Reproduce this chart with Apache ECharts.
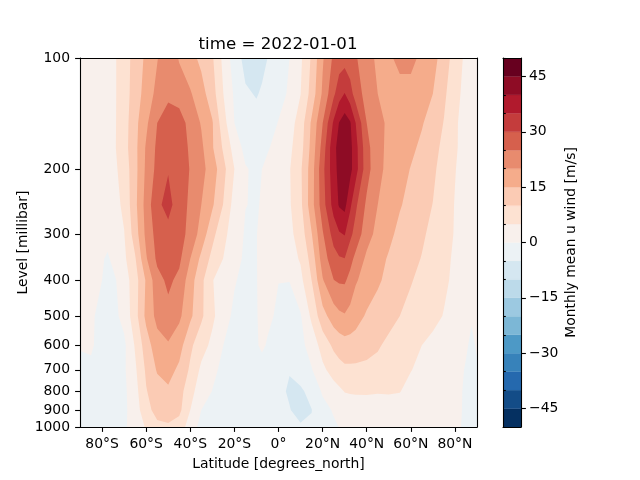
<!DOCTYPE html>
<html><head><meta charset="utf-8">
<style>html,body{margin:0;padding:0;background:#fff}#c{width:640px;height:480px}</style>
<script src="https://cdn.jsdelivr.net/npm/echarts@6/dist/echarts.min.js"></script>
</head><body><div id="c"></div>
<script>
const lats=[-90,-85,-80,-77.5,-75,-70,-65,-60,-55,-50,-45,-40,-35,-30,-25,-20,-15,-10,-7.5,-5,0,5,10,15,20,25,27.5,30,32.5,35,40,45,50,55,60,65,70,75,80,85,87.5,90];
const levels=[100,125,150,175,200,250,300,350,400,500,600,700,800,900,1000];
const u100=[3,3,3,3.5,4,7.5,12,16,19.7,24,19.5,16.7,13.8,10.6,3.7,-2.5,-6.5,-7,-6.2,-5,-2.6,0,4.1,10.7,19.4,26,27.5,28,27,25.5,22,19,19.5,20.8,21.2,19,16.5,13,7.5,4,3.5,3];
const u125=[3,3,3,3.5,4,7.5,12.5,17,21.5,23.5,23,20.5,16.9,12.2,5,-0.7,-4.4,-5.3,-4.5,-3,-1.5,0.6,4.9,11.9,20.8,29,33,35.2,32,27.7,23,20,19.5,19,18.5,17,15,11,6.5,3.5,3.2,3];
const u150=[3,3,3,3.5,4,7.7,13.5,19,25,28.5,27,23.5,19.6,15.4,7,0,-2.5,-3.5,-3,-2,0.2,3,7.2,15.8,24.9,35.8,40.2,42.5,40.5,35,25,21.3,19.2,18,17.5,15.4,12.8,9.8,5.6,3.4,3.1,3];
const u175=[3,3,3.2,3.6,4,8,13.6,20.6,26,29.5,28.5,24,21,15.5,9.3,3,-1.5,-3,-1.8,-0.5,1.9,4,8,16.6,27,38.8,41.5,44,41.5,36.8,26.7,21.3,19,17.5,16,14,11.5,8.9,5.5,3.5,3.2,3];
const u200=[3,3,3.2,3.4,3.7,7,13.4,21,26.5,29.7,28,24.7,21.5,17.7,11.5,5,0.4,-1,0,1.3,3,4.7,9.2,17.6,28.5,38.2,41.5,44,41.5,37,27,21.3,18.7,16.8,14.8,12.8,10.9,8,5.2,3,2.7,2.5];
const u250=[2.5,2.5,2,2.5,3,6,13.7,22,29,31.5,27.6,24,20,15.7,9.8,3,0.1,-0.4,0.4,1.2,3,4.5,8.8,18,27.7,37,40.5,41.5,36,30.9,24,20,17.6,15.4,13.5,11.7,9.9,7.3,4.8,3,2.7,2.5];
const u300=[2.5,2,1.5,1.5,1.5,4.8,12.5,21.3,27,28.5,27,23.4,18,11.5,6.3,2.6,-0.5,-0.1,0.9,1.5,2.6,3.8,7.2,14.7,24.5,32,34.5,35.3,31.2,28.2,22,18.5,16.2,13.7,12.4,10.7,8.8,6.8,4.7,2.5,2.2,2];
const u350=[2,1.5,0.4,-0.6,1,4,9.5,19.5,26,28.5,26,20,13.8,8.5,4.9,1.6,-0.8,-0.1,0.8,1.2,2,3,5.5,11.8,22.5,28,29.5,29.9,26.7,23.6,19,16.7,14.5,12.8,11.3,9.8,8,6.2,4.3,2.5,2.2,2];
const u400=[1.5,1,0,-1.5,-1,2.5,7.8,15.6,23.3,26,23.8,17.2,11.3,5.2,3,0.4,-1.4,-0.1,0.7,1,0.1,0.1,3.7,10,19.6,24.9,25.6,25.7,23.4,20.5,18,15.7,13.7,12,10.3,8.8,7.3,5.8,4.1,2.6,2.1,1.5];
const u500=[1,0.6,-1.2,-2,-1.5,1.5,8,16.3,21.5,23.5,21,16,10.9,6,2,-1,-2,-0.2,0.8,1.2,-1,-1.8,-0.4,6,13.2,17.5,19,19.6,18.4,17,14.4,13,11.5,10,8.7,7.5,6.2,4.8,3,1.5,0.3,1];
const u600=[0.3,0.7,-2,-2.3,-2,-1,5.5,12.6,18,19.5,17,11,7,3.8,0,-1.5,-2,-0.5,0.9,-0.5,-2,-2.5,-1.3,2,7,11,12.2,13,13,12.8,11.8,10.5,9,7.9,6.5,5,3.9,2.8,1.8,0.4,-0.6,0.3];
const u700=[-1,-1,-1.5,-1.7,-1.5,-0.7,4.2,10.8,15.5,16.8,14,9.2,4,1,-1,-2,-3,-2.5,-2,-2.5,-3.2,-4.8,-3.2,-0.3,4,7,8.2,9,9,9,8.8,8.6,8,7,5.2,3.6,2.9,2.2,1.4,-0.3,-0.8,-0.3];
const u800=[-1.5,-1.5,-1.5,-1.5,-1.5,-1,3.2,9.7,12.8,14.2,12,6.7,2.3,-0.1,-1.5,-2,-2.8,-3.2,-3.3,-3.5,-4,-5.5,-5.6,-3.8,0.7,3,4,5.2,5.4,5.5,5.5,5.3,5.4,5.2,3.2,2.5,2,1.5,0.8,-0.4,-1,-0.6];
const u900=[-1.5,-1.5,-1.5,-1.5,-1.5,-1,2.5,8.3,11.8,12.3,11.2,5,0,-1.5,-2,-2,-2.5,-3,-3.2,-3.4,-4,-4.8,-6.5,-5.1,-1.8,0.5,1.5,2.3,2.6,2.8,3,3,3,2.8,2.3,2,1.6,1.2,0.7,-0.4,-1,-0.6];
const u1000=[-1,-1,-1.2,-1.2,-1.2,-0.6,1.8,5.5,8.7,9.3,7.8,2.5,-1.5,-2,-2,-2,-2,-2,-2,-2.5,-2.5,-3,-4.5,-4.5,-2.8,-0.8,0.1,0.8,1.2,1.5,1.5,1.5,1.5,1.5,1.5,1.3,1.2,1,0.5,-0.4,-0.8,-0.5];
const rows=[u100,u125,u150,u175,u200,u250,u300,u350,u400,u500,u600,u700,u800,u900,u1000];
const bandFloors=[-50,-45,-40,-35,-30,-25,-20,-15,-10,-5,0,5,10,15,20,25,30,35,40,45];
const bandColors=['#053061','#134c87','#2569ae','#3782ba','#4d99c6','#7cb7d6','#9cc9e1','#bcdaea','#d5e7f1','#ecf2f5','#f8f0ec','#fde2d2','#fbcbb4','#f5ac8b','#e88b6e','#d6604d','#c43c3c','#b11a2d','#8e0c25','#67001f'];
const latTicks=[-80,-60,-40,-20,0,20,40,60,80];
const levelTicks=[100,200,300,400,500,600,700,800,900,1000];
const cbMajor=[-45,-30,-15,0,15,30,45];
const cbMinor=[-40,-35,-25,-20,-10,-5,5,10,20,25,35,40,50];

const minU=Math.min(...rows.map(r=>Math.min(...r)));
function clipCell(poly,t){
  const out=[];
  for(let i=0;i<poly.length;i++){
    const a=poly[i],b=poly[(i+1)%poly.length];
    const ia=a[2]>=t,ib=b[2]>=t;
    if(ia)out.push(a);
    if(ia!==ib){
      const f=(t-a[2])/(b[2]-a[2]);
      out.push([a[0]+f*(b[0]-a[0]),a[1]+f*(b[1]-a[1]),t]);
    }
  }
  return out;
}
function renderBand(params,api){
  const k=api.value(0),t=bandFloors[k];
  if(k+1<bandFloors.length&&bandFloors[k+1]<=minU)return null;
  let d='',x0=1e9,y0=1e9,x1=-1e9,y1=-1e9;
  for(let j=0;j<levels.length-1;j++){
    const l0=Math.log10(levels[j]),l1=Math.log10(levels[j+1]);
    for(let i=0;i<lats.length-1;i++){
      const poly=clipCell([
        [lats[i],l0,rows[j][i]],[lats[i+1],l0,rows[j][i+1]],
        [lats[i+1],l1,rows[j+1][i+1]],[lats[i],l1,rows[j+1][i]]],t);
      if(poly.length<3)continue;
      poly.forEach((p,n)=>{
        const c=api.coord([p[0],Math.pow(10,p[1])]);
        x0=Math.min(x0,c[0]);x1=Math.max(x1,c[0]);y0=Math.min(y0,c[1]);y1=Math.max(y1,c[1]);
        d+=(n?'L':'M')+c[0].toFixed(2)+' '+c[1].toFixed(2);
      });
      d+='Z';
    }
  }
  if(!d)return null;
  return {type:'path',shape:{pathData:d,layout:'cover',x:x0,y:y0,width:x1-x0,height:y1-y0},
    style:{fill:bandColors[k]}};
}
function renderBar(params,api){
  const k=api.value(0),lo=bandFloors[k];
  const a=api.coord([0,lo]),b=api.coord([1,lo+5]);
  return {type:'rect',shape:{x:a[0],y:b[1],width:b[0]-a[0],height:a[1]-b[1]},
    style:{fill:bandColors[k],stroke:bandColors[k],lineWidth:0.3}};
}
const FONT='DejaVu Sans',FS=13.9;
const line={show:true,onZero:false,lineStyle:{color:'#000',width:1.1}};
const tick={show:true,length:4.9,lineStyle:{color:'#000',width:1.1}};
const off={show:false};
const chart=echarts.init(document.getElementById('c'),null,{renderer:'canvas'});
const bandIdx=bandFloors.map((_,i)=>[i]);
chart.setOption({
  animation:false,backgroundColor:'#fff',
  textStyle:{fontFamily:FONT,color:'#000'},
  title:{text:'time = 2022-01-01',left:273,top:31,textAlign:'center',
    textStyle:{fontFamily:FONT,fontSize:16.67,fontWeight:'normal',color:'#000'}},
  grid:[{left:80,top:58,width:397,height:369,containLabel:false},
        {left:503,top:58,width:18,height:369,containLabel:false}],
  xAxis:[
    {gridIndex:0,type:'value',min:-90,max:90,position:'bottom',z:10,splitLine:off,axisLine:line,
     axisTick:{...tick,customValues:latTicks},
     axisLabel:{customValues:latTicks,margin:10,fontFamily:FONT,fontSize:FS,color:'#000',
       formatter:v=>v<0?(-v)+'°S':v>0?v+'°N':'0°'},
     name:'Latitude [degrees_north]',nameLocation:'middle',nameGap:30,
     nameTextStyle:{fontFamily:FONT,fontSize:FS,color:'#000'}},
    {gridIndex:0,type:'value',min:-90,max:90,position:'top',z:10,splitLine:off,axisLine:line,axisTick:off,axisLabel:off},
    {gridIndex:1,type:'value',min:0,max:1,position:'bottom',z:10,splitLine:off,axisLine:line,axisTick:off,axisLabel:off},
    {gridIndex:1,type:'value',min:0,max:1,position:'top',z:10,splitLine:off,axisLine:line,axisTick:off,axisLabel:off}
  ],
  yAxis:[
    {gridIndex:0,type:'log',logBase:10,min:100,max:1000,inverse:true,position:'left',z:10,splitLine:off,minorTick:off,axisLine:line,
     axisTick:{...tick,customValues:levelTicks},
     axisLabel:{customValues:levelTicks,margin:10,padding:[2,0,0,0],fontFamily:FONT,fontSize:FS,color:'#000',formatter:v=>String(Math.round(v))},
     name:'Level [millibar]',nameLocation:'middle',nameGap:50,nameRotate:90,nameMoveOverlap:false,
     nameTextStyle:{fontFamily:FONT,fontSize:FS,color:'#000'}},
    {gridIndex:0,type:'value',min:0,max:1,position:'right',z:10,splitLine:off,axisLine:line,axisTick:off,axisLabel:off},
    {gridIndex:1,type:'value',min:-50,max:50,position:'left',z:10,splitLine:off,axisLine:line,axisTick:off,axisLabel:off},
    {gridIndex:1,type:'value',min:-50,max:50,position:'right',z:10,splitLine:off,axisLine:line,
     axisTick:{...tick,customValues:cbMajor},
     axisLabel:{customValues:cbMajor,margin:8,padding:[2,0,0,0],fontFamily:FONT,fontSize:FS,color:'#000',
       formatter:v=>v<0?'\u2212'+(-v):String(v)},
     name:'Monthly mean u wind [m/s]',nameLocation:'middle',nameGap:43,nameRotate:90,
     nameTextStyle:{fontFamily:FONT,fontSize:FS,color:'#000'}},
    {gridIndex:1,type:'value',min:-50,max:50,position:'right',z:10,splitLine:off,axisLine:off,
     axisTick:{...tick,length:2.8,customValues:cbMinor},axisLabel:off}
  ],
  series:[
    {type:'custom',xAxisIndex:0,yAxisIndex:0,coordinateSystem:'cartesian2d',clip:true,silent:true,
     encode:{x:-1,y:-1},data:bandIdx,renderItem:renderBand},
    {type:'custom',xAxisIndex:2,yAxisIndex:2,coordinateSystem:'cartesian2d',clip:true,silent:true,
     encode:{x:-1,y:-1},data:bandIdx,renderItem:renderBar}
  ]
});
</script></body></html>
